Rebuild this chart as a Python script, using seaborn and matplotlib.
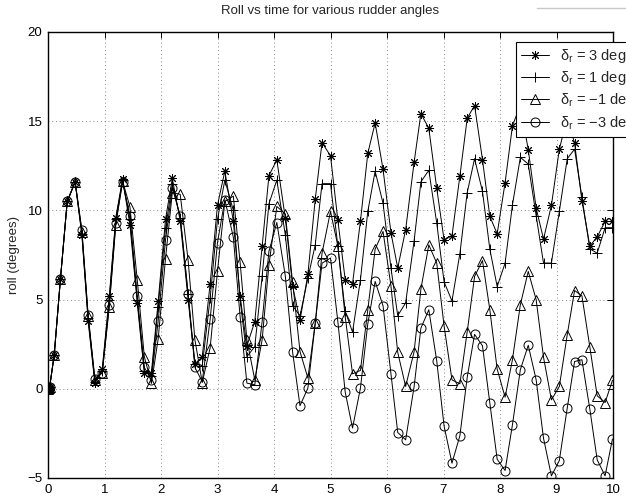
import matplotlib
matplotlib.use("Agg")
import matplotlib.pyplot as plt
from matplotlib.lines import Line2D
import seaborn as sns
import pandas as pd

time_s = [0, 0.015, 0.03, 0.11, 0.22, 0.34, 0.48, 0.60, 0.71, 0.83, 0.96, 1.085, 1.2, 1.32, 1.45,
          1.58, 1.705, 1.83, 1.95, 2.08, 2.2, 2.34, 2.48, 2.6, 2.73, 2.87, 3.0, 3.13, 3.28, 3.4,
          3.52, 3.66, 3.79, 3.91, 4.05, 4.2, 4.33, 4.46, 4.6, 4.73, 4.85, 5.0, 5.13, 5.26, 5.39,
          5.53, 5.66, 5.79, 5.93, 6.07, 6.19, 6.33, 6.48, 6.6, 6.74, 6.88, 7.01, 7.15, 7.29, 7.42,
          7.55, 7.69, 7.82, 7.95, 8.09, 8.22, 8.36, 8.5, 8.64, 8.77, 8.91, 9.05, 9.19, 9.32, 9.45,
          9.59, 9.72, 9.86, 9.99]

roll_p3 = [0, 0.03, 0.12, 1.9, 6.15, 10.5, 11.6, 8.6, 3.8, 0.3, 1.1, 5.2, 9.6, 11.75, 9.2,
           4.8, 0.9, 0.9, 4.9, 9.5, 11.8, 9.4, 5.0, 1.4, 1.8, 5.9, 10.3, 12.2, 9.4, 5.2,
           2.4, 3.77, 7.98, 11.94, 12.84, 9.57, 5.74, 3.83, 6.43, 10.63, 13.8, 13.06, 9.45, 6.12, 5.9,
           9.4, 13.2, 14.9, 12.3, 8.75, 6.77, 8.92, 12.7, 15.43, 14.6, 11.25, 8.35, 8.57, 11.93, 15.17,
           15.88, 12.84, 9.66, 8.69, 11.55, 14.74, 15.9, 13.4, 10.13, 8.39, 10.28, 13.43, 15.2, 13.77, 10.55,
           8.0, 8.52, 9.38, 9.38]

roll_p1 = [0, 0.03, 0.12, 1.9, 6.15, 10.5, 11.6, 8.7, 3.95, 0.4, 1.0, 5.0, 9.5, 11.7, 9.5,
           5.0, 1.0, 0.7, 4.6, 9.0, 11.5, 9.6, 5.3, 1.4, 1.3, 5.1, 9.5, 11.7, 10.0, 5.0,
           1.8, 2.37, 6.3, 10.37, 11.7, 8.63, 4.65, 4.09, 6.2, 8.07, 11.5, 11.5, 8.0, 4.35, 3.18,
           6.11, 9.94, 12.2, 10.4, 6.77, 4.1, 4.82, 8.3, 11.6, 12.25, 9.3, 6.0, 4.92, 7.58, 11.0,
           12.9, 11.06, 7.83, 5.73, 7.04, 10.3, 12.97, 12.6, 9.7, 7.05, 7.05, 9.94, 12.9, 13.43, 10.74,
           7.85, 7.6, 9.03, 9.03]

roll_m1 = [0, 0.03, 0.12, 1.9, 6.15, 10.5, 11.6, 8.8, 4.1, 0.5, 0.9, 4.6, 9.2, 11.65, 10.2,
           6.1, 1.8, 0.3, 2.8, 7.3, 11.0, 10.9, 7.2, 2.75, 0.35, 2.3, 6.6, 10.5, 10.8, 7.1,
           2.75, 0.5, 2.75, 6.95, 10.22, 9.8, 5.96, 2.09, 0.6, 3.68, 7.6, 9.94, 8.02, 4.05, 0.84,
           1.03, 4.43, 7.83, 8.82, 5.77, 2.04, 0.13, 2.09, 5.59, 8.07, 7.05, 3.53, 0.5, 0.28, 3.21,
           6.3, 7.19, 4.43, 1.1, -0.47, 1.63, 4.71, 6.58, 4.99, 1.77, -0.62, 0.13, 3.03, 5.51, 5.21,
           2.34, -0.39, -0.77, 0.47]

roll_m3 = [0, 0.03, 0.12, 1.9, 6.15, 10.5, 11.6, 8.9, 4.15, 0.55, 0.9, 4.7, 9.3, 11.6, 9.7,
           5.2, 1.2, 0.5, 3.8, 8.35, 11.25, 9.7, 5.3, 1.2, 0.4, 3.9, 8.2, 10.6, 8.5, 4.05,
           0.32, 0.22, 3.77, 7.7, 9.32, 6.33, 2.04, -0.95, 0.04, 3.68, 7.04, 7.33, 3.77, -0.18, -2.2,
           0.04, 3.64, 6.02, 4.65, 0.84, -2.45, -2.86, 0.13, 3.4, 4.43, 1.57, -2.08, -4.17, -2.63, 0.65,
           3.05, 2.41, -0.8, -3.95, -4.58, -2.02, 1.07, 2.44, 0.5, -2.77, -4.88, -4.02, -1.08, 1.53, 1.63,
           -1.14, -3.98, -4.88, -2.82]

labels = [r"$\delta_r$ = 3 deg", r"$\delta_r$ = 1 deg", r"$\delta_r$ = $-$1 deg", r"$\delta_r$ = $-$3 deg"]
markers = [(8, 2, 0), "+", "^", "o"]

sns.set_theme(style="white")
plt.rcParams["font.family"] = ["Liberation Sans", "DejaVu Sans"]
plt.rcParams["mathtext.fontset"] = "custom"
plt.rcParams["mathtext.rm"] = "Liberation Sans"
plt.rcParams["mathtext.it"] = "Liberation Sans"

fig = plt.figure(figsize=(6.26, 5.01), dpi=100)
ax = fig.add_axes([48 / 626, 1 - 478 / 501, (613 - 48) / 626, (478 - 32) / 501])

series = [roll_p3, roll_p1, roll_m1, roll_m3]
handles = []
for ys, lab, mk in zip(series, labels, markers):
    df = pd.DataFrame({"t": time_s, "roll": ys})
    sns.lineplot(data=df, x="t", y="roll", ax=ax, color="black", lw=0.7,
                 marker=mk, markersize=6.5, markerfacecolor="none",
                 markeredgecolor="black", markeredgewidth=0.7,
                 errorbar=None, estimator=None, sort=False)
    handles.append(Line2D([], [], color="black", lw=0.7, marker=mk, markersize=6.5,
                          markerfacecolor="none", markeredgecolor="black", markeredgewidth=0.7))

ax.set_xlim(0, 10)
ax.set_ylim(-5, 20)
ax.set_xticks(range(0, 11))
ax.set_yticks([-5, 0, 5, 10, 15, 20])
ax.set_yticklabels(["\u22125", "0", "5", "10", "15", "20"])
ax.set_xlabel("")
ax.set_ylabel("roll (degrees)", fontsize=9.5, labelpad=5)
ax.set_title("Roll vs time for various rudder angles", fontsize=9.5, pad=13)
ax.grid(True, color="#666666", linestyle=(0, (1, 3.5)), lw=0.6)
for s in ax.spines.values():
    s.set_color("black")
    s.set_linewidth(1.0)
ax.tick_params(direction="in", top=True, right=True, length=4, width=0.7,
               labelsize=9.5, colors="black", pad=4)

leg = fig.legend(handles, labels, loc="upper left",
                 bbox_to_anchor=(516 / 626, 1 - 41.5 / 501),
                 fontsize=10.5, frameon=True, fancybox=False, framealpha=1,
                 edgecolor="black", handlelength=1.9, handletextpad=0.8,
                 labelspacing=0.3, borderpad=0.35, borderaxespad=0)
leg.get_frame().set_linewidth(0.8)

fig.add_artist(Line2D([537 / 626, 1.0], [1 - 8 / 501, 1 - 8 / 501], color="#c8c8c8", lw=1.0))

fig.savefig("out.png", dpi=100)
